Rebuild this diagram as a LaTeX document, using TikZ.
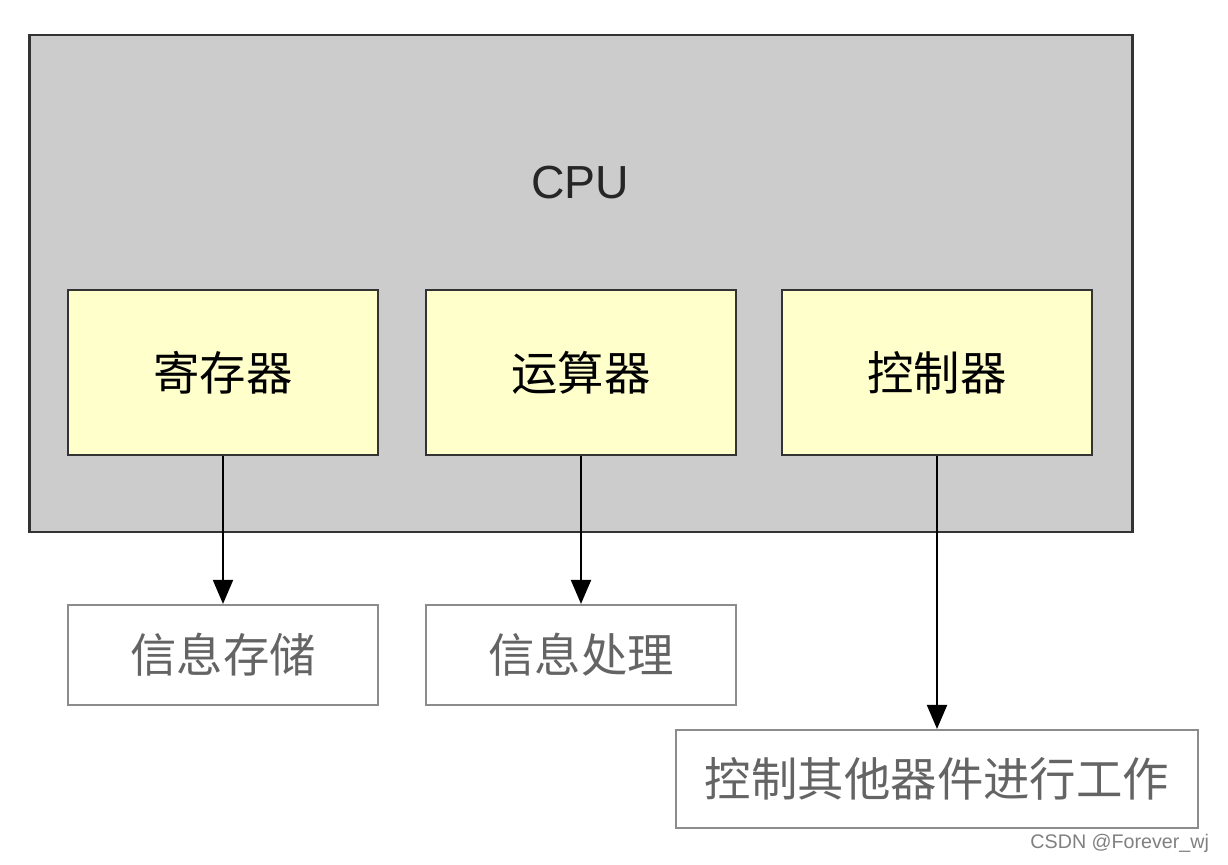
\documentclass[tikz,border=0pt]{standalone}
\usepackage{fontspec}
\setmainfont{Liberation Sans}
\newfontfamily\cjk{Noto Sans CJK SC}
\definecolor{cpugray}{RGB}{204,204,204}
\definecolor{cpuedge}{RGB}{51,51,51}
\definecolor{unityellow}{RGB}{255,255,204}
\definecolor{outedge}{RGB}{140,140,140}
\definecolor{outtext}{RGB}{100,100,100}
\usetikzlibrary{arrows.meta,positioning}
\tikzset{
  unit/.style={draw=cpuedge, fill=unityellow, line width=1.6pt, minimum width=7.75cm, minimum height=4.125cm, font=\fontsize{33}{36}\selectfont\cjk},
  outbox/.style={draw=outedge, line width=1.5pt, minimum height=2.5cm, text=outtext, font=\fontsize{33}{36}\selectfont\cjk},
  flow/.style={-{Triangle[length=0.6cm,width=0.5cm]}, line width=1.4pt, black}
}
\begin{document}
\begin{tikzpicture}[x=0.025cm, y=-0.025cm]
  \useasboundingbox (0,0) rectangle (1228,864);

  %% CPU frame
  \node[draw=cpuedge, fill=cpugray, line width=2pt, minimum width=27.55cm, minimum height=12.425cm] (cpu) at (581,283.5) {};
  \node[font=\fontsize{33}{36}\selectfont, text=black!85] (cputitle) at (580,183) {CPU};

  %% units inside the CPU
  \node[unit] (reg)  at (223,372.5) {寄存器};
  \node[unit] (alu)  at (581,372.5) {运算器};
  \node[unit] (ctrl) at (937,372.5) {控制器};

  %% what each unit does
  \node[outbox, minimum width=7.75cm]  (store) at (223,655) {信息存储};
  \node[outbox, minimum width=7.75cm]  (proc)  at (581,655) {信息处理};
  \node[outbox, minimum width=13.05cm, minimum height=2.45cm] (work) at (937,779) {控制其他器件进行工作};

  \draw[flow] (reg.south)  -- (store.north);
  \draw[flow] (alu.south)  -- (proc.north);
  \draw[flow] (ctrl.south) -- (work.north);

  %% watermark
  \node[anchor=east, font=\fontsize{14}{16}\selectfont, text=black!50] (mark) at (1214,843) {CSDN @Forever\_wj};
\end{tikzpicture}
\end{document}
